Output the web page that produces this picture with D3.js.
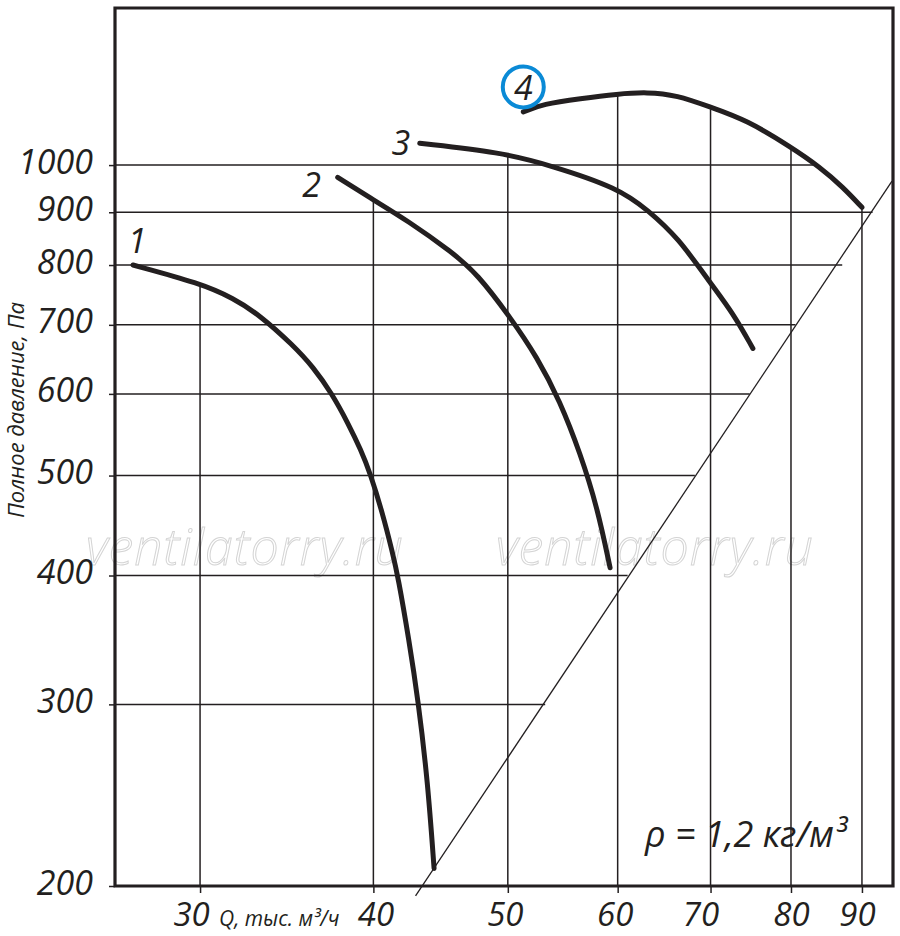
<!DOCTYPE html>
<html>
<head>
<meta charset="utf-8">
<script src="https://cdn.jsdelivr.net/npm/d3@7"></script>
<style>
  body { margin: 0; background: #fff; }
  svg text { font-family: "Open Sans", "Noto Sans", sans-serif; font-style: italic; fill: #231f20; }
</style>
</head>
<body>
<svg id="chart" width="900" height="936"></svg>
<script>
// Fan curves, log-log: Q (thousand m3/h) vs total pressure (Pa)

// Axis ticks
const qTicks = [30, 40, 50, 60, 70, 80, 90]
const pTicks = [200, 300, 400, 500, 600, 700, 800, 900, 1000]

// Where the grid lines stop
const hGridP = [300, 400, 500, 600, 700, 800, 900, 1000]
const hGridEndQ = [53.2, 61.0, 68.2, 74.7, 80.6, 87.1, 91.6, 83.0]
const vGridTopP = [765, 925, 1018, 1167, 1133, 1036, 908]

// System line (P ~ Q^2)
const sysQ = [42.9, 94.6]
const sysP = [195.6, 965]

// Fan curves 1..4
const curveNames = ["1", "2", "3", "4"]
const q1 = [26.84, 30.0, 31.7, 33.14, 35.0, 36.2, 37.35, 38.35, 39.19, 39.78, 40.61, 41.29, 41.67, 42.44, 43.08, 43.77, 44.24]
const p1 = [800, 768, 743, 715, 669, 637, 600, 562, 529, 503, 460, 421, 399, 346, 303, 253, 208]
const q2 = [37.7, 40.0, 42.3, 45.6, 47.5, 50.2, 52.5, 54.5, 56.4, 58.0, 59.25]
const p2 = [973, 925, 884, 823, 785, 712, 651, 591, 525, 466, 407]
const q3 = [43.2, 49.4, 53.6, 60.1, 63.1, 66.3, 70.0, 72.7, 75.1]
const p3 = [1050, 1029, 1000, 950, 904, 851, 768, 718, 664]
const q4 = [51.3, 53.0, 56.4, 60.0, 63.0, 66.2, 70.0, 74.3, 80.0, 83.9, 87.2, 90.0]
const p4 = [1126, 1146, 1160, 1172, 1177, 1169, 1138, 1106, 1041, 996, 952, 910]

const ink = "#231f20"
const svg = d3.select("#chart")

// plot frame
const frame = {left: 115, right: 893, top: 8, bottom: 886}

const x = d3.scaleLog().domain([26.05, 94.76]).range([frame.left, frame.right])
const y = d3.scaleLog().domain([200, 1420]).range([frame.bottom, frame.top])

// watermark (hollow grey text)
svg.append("g")
  .selectAll("text")
  .data([245, 655])
  .enter()
  .append("text")
  .attr("x", d => d)
  .attr("y", 565)
  .attr("text-anchor", "middle")
  .style("font-size", "50px")
  .style("font-weight", 300)
  .style("letter-spacing", "1px")
  .style("fill", "none")
  .style("stroke", "#d4d4d4")
  .style("stroke-width", 1)
  .text("ventilatorry.ru")

// horizontal grid lines
svg.append("g")
  .selectAll("line")
  .data(hGridP)
  .enter()
  .append("line")
  .attr("x1", frame.left)
  .attr("x2", (d, i) => x(hGridEndQ[i]))
  .attr("y1", d => y(d))
  .attr("y2", d => y(d))
  .style("stroke", ink)
  .style("stroke-width", 1.5)

// vertical grid lines
svg.append("g")
  .selectAll("line")
  .data(qTicks)
  .enter()
  .append("line")
  .attr("x1", d => x(d))
  .attr("x2", d => x(d))
  .attr("y1", frame.bottom)
  .attr("y2", (d, i) => y(vGridTopP[i]))
  .style("stroke", ink)
  .style("stroke-width", 1.5)

// system line
svg.append("line")
  .attr("x1", x(sysQ[0])).attr("y1", y(sysP[0]))
  .attr("x2", x(sysQ[1])).attr("y2", y(sysP[1]))
  .style("stroke", ink)
  .style("stroke-width", 1.3)

// axes: only the small outside ticks and the labels
const yAxis = svg.append("g")
  .attr("transform", `translate(${frame.left},0)`)
  .call(d3.axisLeft(y).tickValues(pTicks).tickFormat(d3.format("d")).tickSize(6).tickPadding(16))
yAxis.select(".domain").remove()
yAxis.selectAll("line").style("stroke", ink).style("stroke-width", 1.5)
yAxis.selectAll("text")
  .attr("dy", "8px")
  .style("font-size", "34px")
  .style("font-family", '"Open Sans", sans-serif')
  .style("fill", ink)

// small nudges of the bottom labels, as in the original layout
const xLabelShift = [-9, 2, -3, -3, -10, 0, -5]
const xAxis = svg.append("g")
  .attr("transform", `translate(0,${frame.bottom})`)
  .call(d3.axisBottom(x).tickValues(qTicks).tickFormat(d3.format("d")).tickSize(7).tickPadding(0))
xAxis.select(".domain").remove()
xAxis.selectAll("line").style("stroke", ink).style("stroke-width", 1.5)
xAxis.selectAll("text")
  .attr("y", 40)
  .attr("dy", 0)
  .attr("dx", (d, i) => xLabelShift[i])
  .style("font-size", "33px")
  .style("font-family", '"Open Sans", sans-serif')
  .style("fill", ink)

// frame
svg.append("path")
  .attr("d", `M${frame.left},${frame.bottom}H${frame.right}V${frame.top}H${frame.left}Z`)
  .style("fill", "none")
  .style("stroke", ink)
  .style("stroke-width", 3.2)

// fan curves
const curves = [[q1, p1], [q2, p2], [q3, p3], [q4, p4]].map((c, i) => ({
  name: curveNames[i],
  points: c[0].map((q, j) => [q, c[1][j]])
}))

const line = d3.line()
  .x(d => x(d[0]))
  .y(d => y(d[1]))
  .curve(d3.curveBasis)

svg.append("g")
  .selectAll("path")
  .data(curves)
  .enter()
  .append("path")
  .attr("d", d => line(d.points))
  .style("fill", "none")
  .style("stroke", ink)
  .style("stroke-width", 5)
  .style("stroke-linecap", "round")

// curve numbers, placed relative to the start of each curve
const labelOffsets = [[4, -12], [-26, 20], [-19, 12], [0, -12]]
const labels = svg.append("g")
  .selectAll("g")
  .data(curves)
  .enter()
  .append("g")
  .attr("transform", (d, i) => {
    let p = d.points[0]
    return `translate(${x(p[0]) + labelOffsets[i][0]},${y(p[1]) + labelOffsets[i][1]})`
  })

labels.filter(d => d.name == "4")
  .append("circle")
  .attr("cy", -13)
  .attr("r", 20.5)
  .style("fill", "#fff")
  .style("stroke", "#0a8ad6")
  .style("stroke-width", 4)

labels.append("text")
  .attr("text-anchor", "middle")
  .style("font-size", "34px")
  .text(d => d.name)

// axis titles
svg.append("text")
  .attr("transform", "translate(24,410) rotate(-90)")
  .attr("text-anchor", "middle")
  .style("font-size", "22px")
  .text("Полное давление, Па")

svg.append("text")
  .attr("x", 219)
  .attr("y", 926)
  .style("font-size", "21px")
  .text("Q, тыс. м³/ч")

svg.append("text")
  .attr("x", 645)
  .attr("y", 847)
  .style("font-size", "36px")
  .text("ρ = 1,2 кг/м³")
</script>
</body>
</html>
